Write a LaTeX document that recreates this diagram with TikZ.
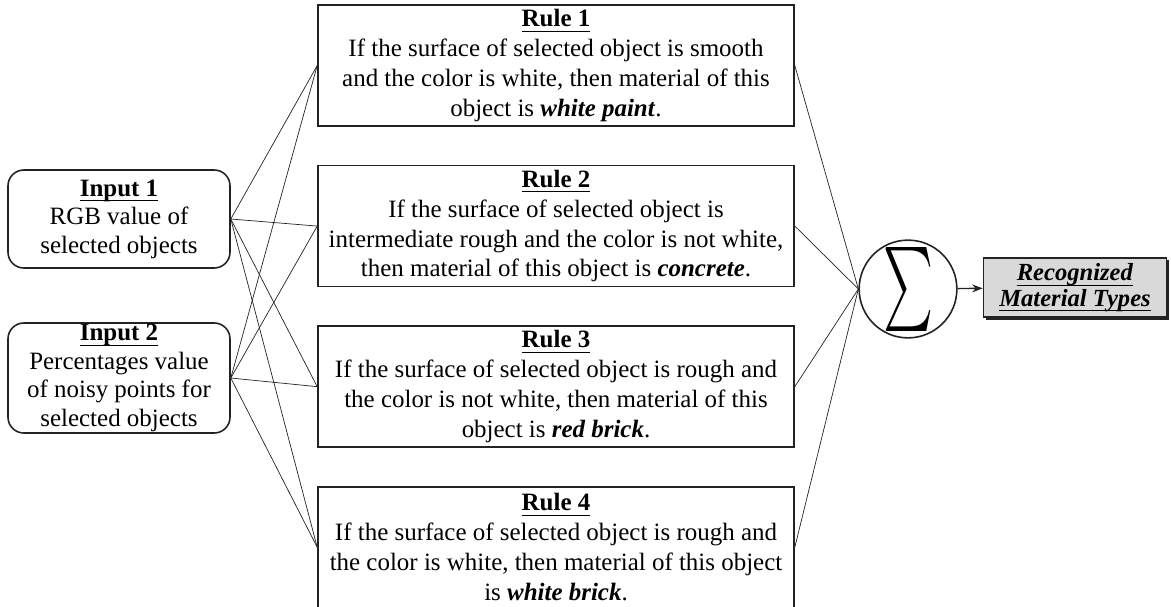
\documentclass[tikz,border=0pt]{standalone}
\usepackage{fontspec}
\setmainfont{Liberation Serif}
\usepackage{tikz}
\usetikzlibrary{arrows.meta, positioning, shadows}
\definecolor{mydark}{RGB}{35,35,35}
\definecolor{outgray}{RGB}{217,217,217}
\tikzset{
  rulebox/.style={rectangle, draw=mydark, fill=white,
    minimum width=9.52cm, minimum height=2.42cm, align=center,
    font=\fontsize{14.2}{17}\selectfont, line width=0.9pt, inner sep=0pt},
  inbox/.style={rectangle, draw=mydark, fill=white,
    minimum width=4.44cm, align=center, rounded corners=9pt,
    font=\fontsize{14.2}{16.2}\selectfont, line width=0.9pt, inner sep=0pt},
  sumnode/.style={circle, draw=mydark, fill=white,
    minimum size=1.6cm, inner sep=0pt, line width=0.9pt},
  outbox/.style={rectangle, draw=mydark, fill=outgray,
    minimum width=3.66cm, minimum height=1.18cm, align=center,
    font=\fontsize{14}{14.5}\selectfont, line width=0.9pt,
    drop shadow={shadow xshift=0.05cm, shadow yshift=-0.05cm, fill=mydark, opacity=1}},
  link/.style={thin, color=mydark},
  arrow/.style={-{Stealth[length=6pt]}, thick, color=mydark}
}
\newcommand{\ul}[1]{\underline{\raisebox{0pt}[\height][1pt]{#1}}}
\newcommand{\ttl}[1]{\ul{\textbf{#1}}}
\newcommand{\mat}[1]{\textbf{\textit{#1}}}

\begin{document}
\begin{tikzpicture}
  \useasboundingbox (0,0) rectangle (23.42,-12.12);

  % Rules
  \node[rulebox] (rule1) at (11.12,-1.31) {\ttl{Rule 1}\\
    If the surface of selected object is smooth\\
    and the color is white, then material of this\\
    object is \mat{white paint}.};
  \node[rulebox, below=0.76cm of rule1] (rule2) {\ttl{Rule 2}\\
    If the surface of selected object is\\
    intermediate rough and the color is not white,\\
    then material of this object is \mat{concrete}.};
  \node[rulebox, below=0.76cm of rule2] (rule3) {\ttl{Rule 3}\\
    If the surface of selected object is rough and\\
    the color is not white, then material of this\\
    object is \mat{red brick}.};
  \node[rulebox, below=0.76cm of rule3] (rule4) {\ttl{Rule 4}\\
    If the surface of selected object is rough and\\
    the color is white, then material of this object\\
    is \mat{white brick}.};

  % Inputs
  \node[inbox, minimum height=1.96cm] (in1) at (2.38,-4.38) {\ttl{Input 1}\\
    RGB value of\\selected objects};
  \node[inbox, minimum height=2.2cm] (in2) at (2.38,-7.56) {\ttl{Input 2}\\
    Percentages value\\of noisy points for\\selected objects};

  % Aggregation and output
  \node[sumnode] (sum) at (18.16,-5.78) {\resizebox{1.0cm}{1.26cm}{$\sum$}};
  \node[outbox] (out) at (21.5,-5.75) {\ul{\mat{Recognized}}\\\ul{\mat{Material Types}}};

  % Connections
  \foreach \i in {in1,in2} {
    \foreach \r in {rule1,rule2,rule3,rule4} {
      \draw[link] (\i.east) -- (\r.west);
    }
  }
  \foreach \r in {rule1,rule2,rule3,rule4} {
    \draw[link] (\r.east) -- (sum.west);
  }
  \draw[arrow] (sum) -- (out);
\end{tikzpicture}
\end{document}
